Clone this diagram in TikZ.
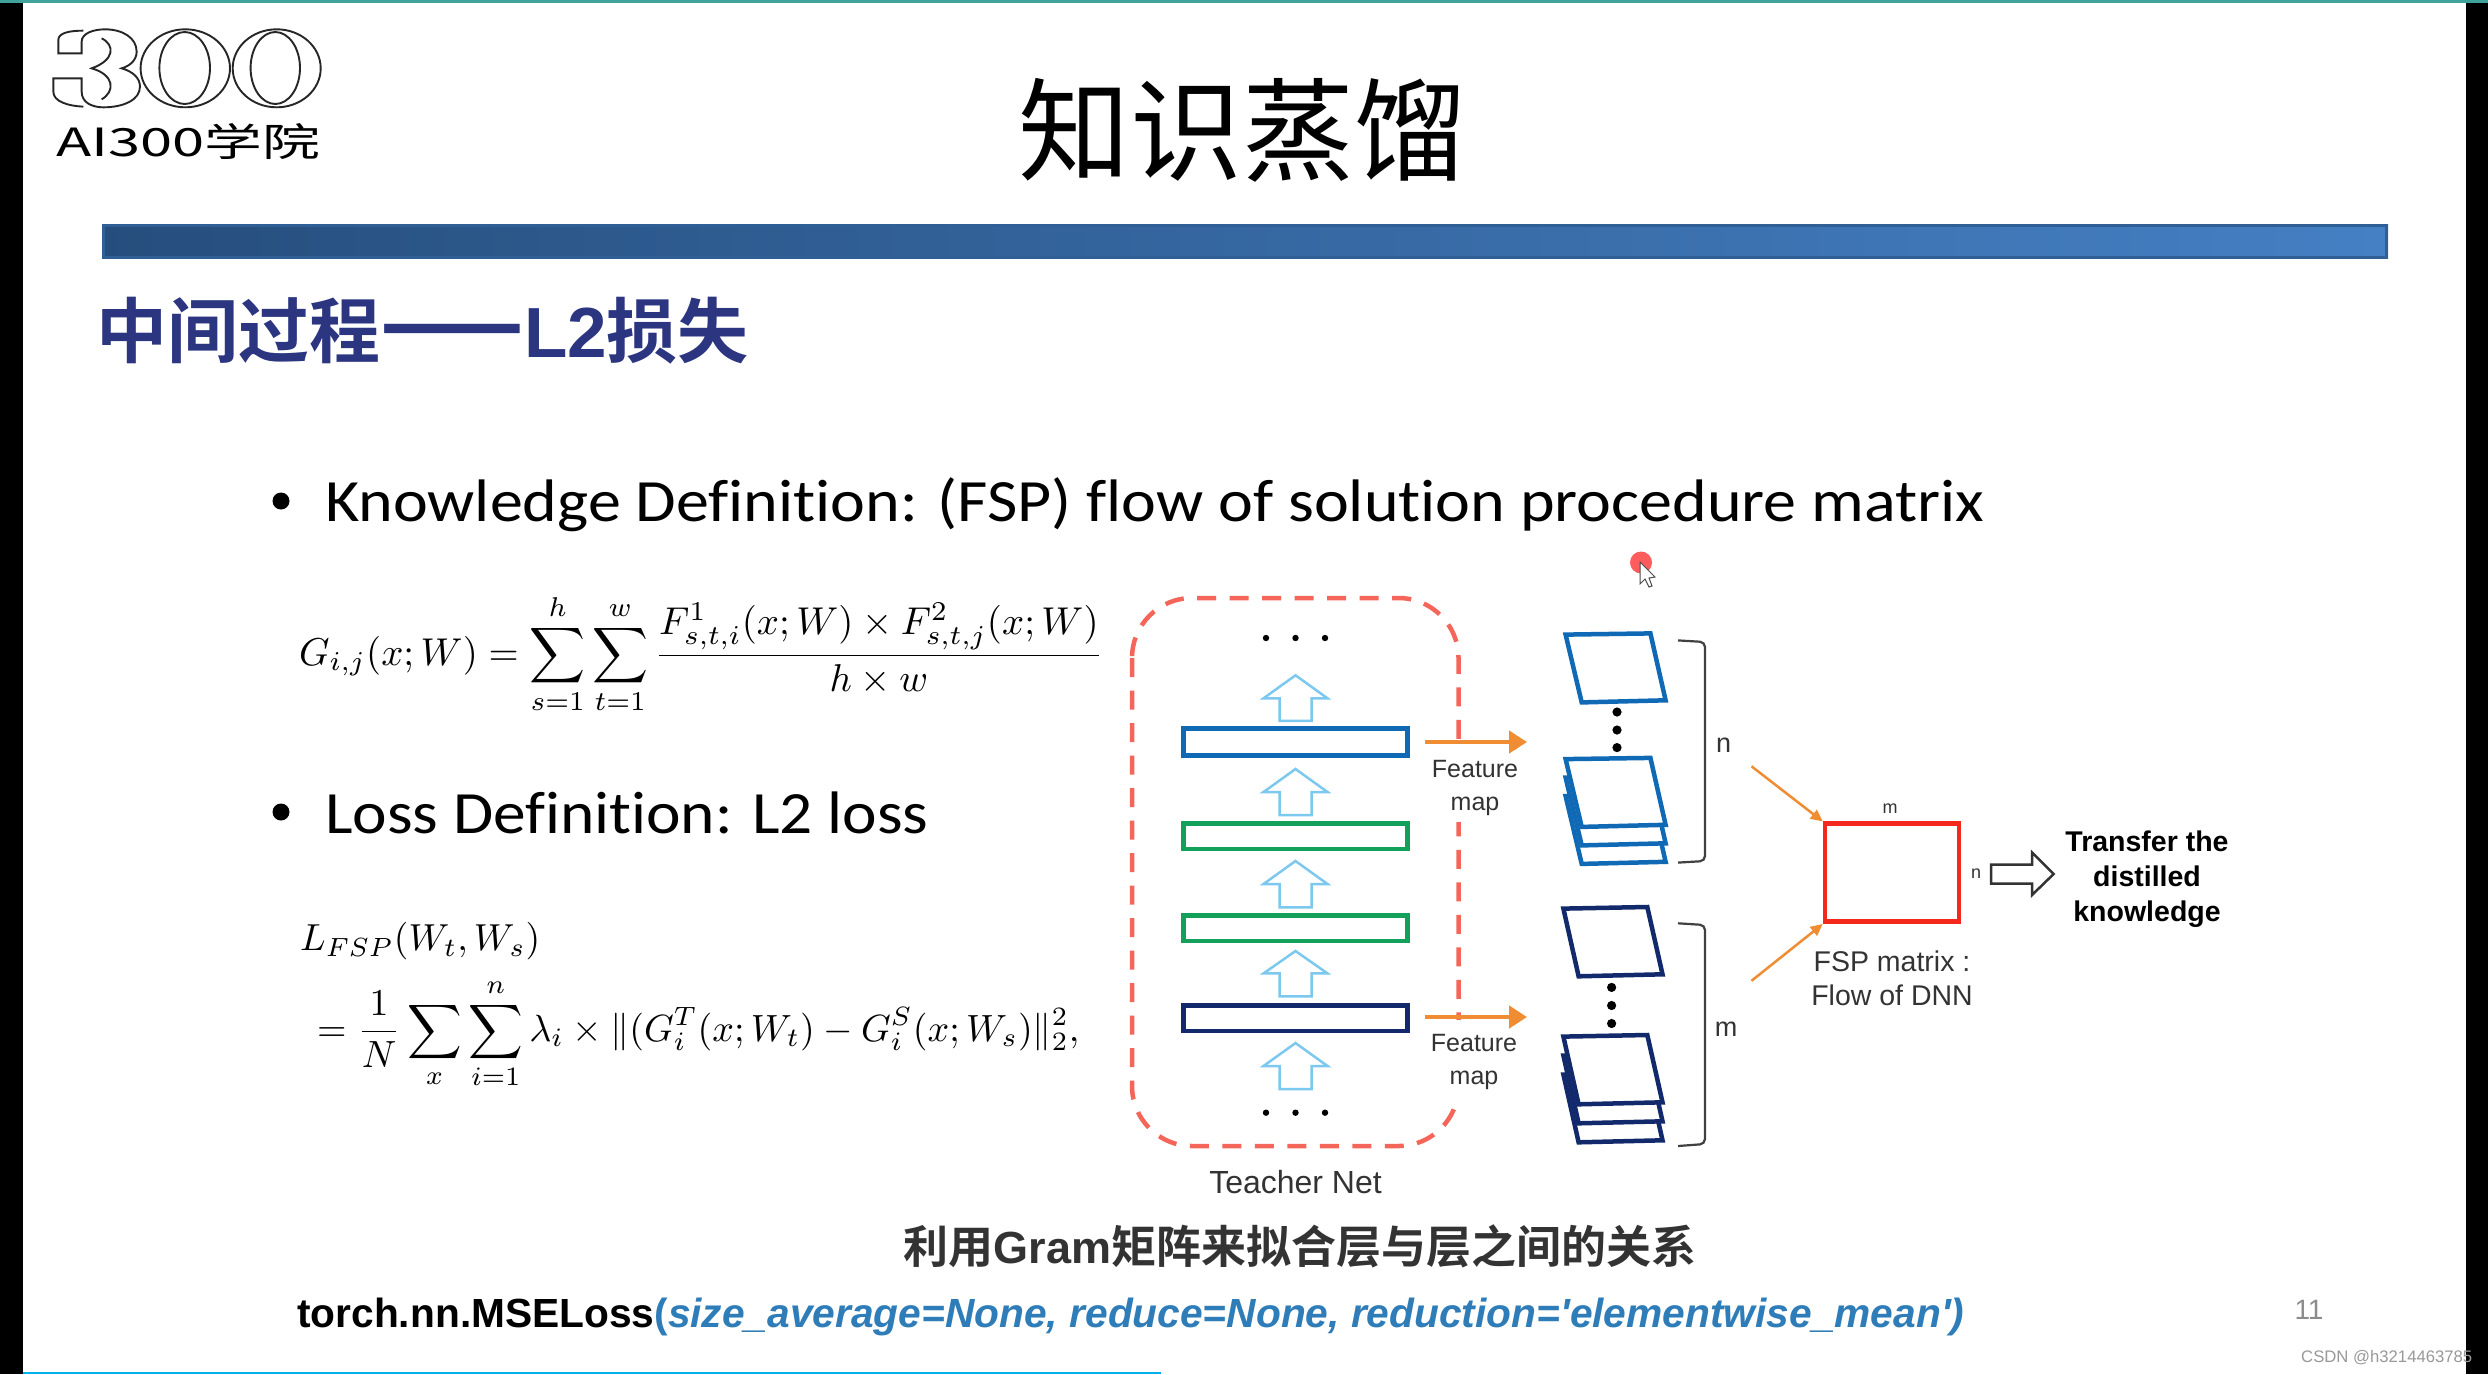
\documentclass[tikz,border=0pt]{standalone}
\usepackage[no-math]{fontspec}
\usepackage{graphicx}
\usetikzlibrary{arrows.meta,shapes.geometric}
\newfontfamily\cjkreg{Noto Sans CJK SC}
\newfontfamily\cjkbold{Noto Sans CJK SC Bold}
\newfontfamily\arial{Liberation Sans}
\newfontfamily\calib[Ligatures=NoCommon]{Carlito}
\definecolor{pblue}{HTML}{0F69B4}
\definecolor{pnavy}{HTML}{12296B}
\definecolor{pgreen}{HTML}{12A05A}
\definecolor{porange}{HTML}{F08C32}
\definecolor{pdash}{HTML}{F4665A}
\definecolor{plight}{HTML}{7CC8EE}
\definecolor{pteal}{HTML}{3FA39B}
\definecolor{pcyan}{HTML}{00B0F0}
\definecolor{ptitle}{HTML}{2B3580}
\definecolor{pcode}{HTML}{2E7DB8}
\definecolor{barL}{HTML}{264E7D}
\definecolor{barR}{HTML}{4580C4}
\definecolor{barE}{HTML}{2F5F94}
\definecolor{pred}{HTML}{F5281E}
\tikzset{
 x=1pt,y=-1pt,
 lbl/.style={inner sep=0pt,outer sep=0pt,align=center,font=\arial\fontsize{25}{32}\selectfont,text=black!80},
 bar/.style={draw=#1,line width=4.5pt,fill=white},
 uparrow/.style={draw=plight,line width=2.5pt,fill=white,line join=miter},
 oarrow/.style={draw=porange,line width=4.5pt,-{Triangle[length=18pt,width=22pt]}},
 tarrow/.style={draw=porange,line width=2.5pt,-{Triangle[length=12pt,width=11pt]}},
 sheet/.style={draw=#1,line width=4.5pt,fill=white,line join=miter},
 brk/.style={draw=black!75,line width=2.2pt,rounded corners=5pt},
 dotk/.style={circle,fill=black,inner sep=0pt,minimum size=#1},
}
\newcommand{\upar}[4]{% x, top, headbase, bottom
 \draw[uparrow] (#1,#2) -- (#1+32,#3) -- (#1+16,#3) -- (#1+16,#4) -- (#1-16,#4) -- (#1-16,#3) -- (#1-32,#3) -- cycle;}
\begin{document}
\begin{tikzpicture}
\useasboundingbox (0,0) rectangle (2488,1374);
\fill[white] (0,0) rectangle (2488,1374);
\fill[black] (0,0) rectangle (23,1374);
\fill[black] (2466,0) rectangle (2488,1374);
\fill[pteal] (0,0) rectangle (2488,2.5);
\fill[pcyan] (23,1371.5) rectangle (1161,1374);

% logo
\begin{scope}[draw=black!85,line width=1.9pt]
 \draw (185.3,68.3) ellipse (44.7 and 39);
 \draw (184.7,68) ellipse (25.3 and 36);
 \draw (276.7,68.3) ellipse (44 and 39);
 \draw (275.3,68) ellipse (24.7 and 36);
 \begin{scope}[shift={(40,20)},scale=0.3333]
 \draw (130,32) .. controls (90,32) and (55,38) .. (55,60) -- (55,100) -- (125,100) -- (125,65) .. controls (125,40) and (160,28) .. (195,28) .. controls (250,28) and (290,55) .. (290,95) .. controls (290,120) and (270,138) .. (245,145) .. controls (280,155) and (300,175) .. (300,200) .. controls (300,240) and (250,262) .. (190,262) .. controls (160,262) and (125,250) .. (125,215) -- (125,175) -- (40,175) -- (40,215) .. controls (40,245) and (85,258) .. (130,260);
 \draw (185,55) .. controls (225,75) and (225,120) .. (155,145) .. controls (225,165) and (225,215) .. (185,238);
 \end{scope}
\end{scope}
\node[inner sep=0pt,anchor=west] (logotext) at (56,141.5) {\resizebox{264pt}{33pt}{\cjkreg AI300学院}};

% title
\node[inner sep=0pt] (title) at (1242,130) {\cjkreg\fontsize{112}{112}\selectfont 知识蒸馏};
\shade[left color=barL,right color=barR] (102,224) rectangle (2388,258.5);
\draw[draw=barE,line width=3pt] (103.5,225.5) rectangle (2386.5,257);

\node[inner sep=0pt,anchor=west,text=ptitle] (sub) at (96,331) {\cjkbold\fontsize{71}{71}\selectfont 中间过程\scalebox{1.19}[1.4]{——}{\arial\bfseries L2}损失};

% bullets
\node[dotk=17pt] (b1) at (281,501) {};
\node[inner sep=0pt,anchor=west] (t1) at (325,505) {\scalebox{1.1}[1]{\calib\fontsize{60}{60}\selectfont Knowledge Definition: (FSP) flow of solution procedure matrix}};
\node[dotk=17pt] (b2) at (281,812) {};
\node[inner sep=0pt,anchor=west] (t2) at (325,813) {\scalebox{1.09}[1]{\calib\fontsize{60}{60}\selectfont Loss Definition: L2 loss}};

% formulas
\node[inner sep=0pt,anchor=west] (f1) at (299,654) {\resizebox{804pt}{!}{$\displaystyle G_{i,j}(x;W)=\sum_{s=1}^{h}\sum_{t=1}^{w}\frac{F^1_{s,t,i}(x;W)\times F^2_{s,t,j}(x;W)}{h\times w}$}};
\node[inner sep=0pt,anchor=west] (f2) at (300,941) {\resizebox{240pt}{!}{$L_{FSP}(W_t,W_s)$}};
\node[inner sep=0pt,anchor=west] (f3) at (317,1034) {\resizebox{762pt}{!}{$\displaystyle =\frac{1}{N}\sum_{x}\sum_{i=1}^{n}\lambda_i\times\|(G_i^T(x;W_t)-G_i^S(x;W_s)\|_2^2,$}};

% teacher net
\draw[draw=pdash,line width=4.5pt,dash pattern=on 19pt off 13.5pt,rounded corners=60pt] (1132,598) rectangle (1458.5,1146);
\fill[white] (1445,749) rectangle (1470,822);
\fill[white] (1445,1020) rectangle (1470,1100);
\node[lbl,font=\arial\fontsize{32}{32}\selectfont] (teacher) at (1295.5,1182) {Teacher Net};
\foreach \xx in {1266,1295.5,1325}{
 \fill (\xx,638) circle (3.2);
 \fill (\xx,1112.7) circle (3.2);
}
\upar{1295.5}{675.3}{698.3}{720.9}
\upar{1295.5}{769}{792}{815}
\upar{1295.5}{861}{884}{907.3}
\upar{1295.5}{951}{973.4}{996.4}
\upar{1295.5}{1043}{1066}{1089}
\node[bar=pblue,minimum width=224pt,minimum height=27pt,inner sep=0pt] (l1) at (1295.5,742) {};
\node[bar=pgreen,minimum width=224pt,minimum height=25.5pt,inner sep=0pt] (l2) at (1295.5,836) {};
\node[bar=pgreen,minimum width=224pt,minimum height=25.5pt,inner sep=0pt] (l3) at (1295.5,928) {};
\node[bar=pnavy,minimum width=224pt,minimum height=25.5pt,inner sep=0pt] (l4) at (1295.5,1018) {};

\coordinate (o1s) at (1425,742); \coordinate (o1e) at (1527,742);
\coordinate (o2s) at (1425,1017); \coordinate (o2e) at (1527,1017);
\draw[oarrow] (o1s) -- (o1e);
\draw[oarrow] (o2s) -- (o2e);
\node[lbl] (fm1) at (1475,788) {Feature\\[1pt]map};
\node[lbl] (fm2) at (1474,1062) {Feature\\[1pt]map};

% blue sheets
\draw[sheet=pblue] (1565.6,634.6) -- (1650.4,633.4) -- (1665.6,700.3) -- (1581.7,702.4) -- cycle;
\foreach \yy in {712,730,747.6} \fill (1617,\yy) circle (4.6);
\foreach \dd in {161.5,143,124.5}{
 \draw[sheet=pblue,yshift=-\dd pt] (1565.6,634.6) -- (1650.4,633.4) -- (1665.6,700.3) -- (1581.7,702.4) -- cycle;
}
% navy sheets
\draw[sheet=pnavy] (1563.4,908.6) -- (1647.3,907) -- (1662.5,974.3) -- (1578.6,976.3) -- cycle;
\foreach \yy in {987.4,1005.5,1023.5} \fill (1611.6,\yy) circle (4.6);
\foreach \dd in {166,147,128}{
 \draw[sheet=pnavy,yshift=-\dd pt] (1563.4,908.6) -- (1647.3,907) -- (1662.5,974.3) -- (1578.6,976.3) -- cycle;
}
% brackets
\draw[brk] (1678,640.4) -- (1705,642) -- (1705,861) -- (1678,862.6);
\draw[brk] (1678,923.3) -- (1705,925) -- (1705,1144) -- (1678,1146);
\node[lbl,font=\arial\fontsize{27}{27}\selectfont] (nn) at (1723.6,745) {n};
\node[lbl,font=\arial\fontsize{27}{27}\selectfont] (mm) at (1726,1029) {m};

% FSP
\node[draw=pred,line width=4.5pt,minimum width=134pt,minimum height=98pt,inner sep=0pt,fill=white] (fsp) at (1892,872.7) {};
\coordinate (a1) at (1751.5,766.3); \coordinate (a2) at (1751.5,980.8);
\draw[tarrow] (a1) -- (fsp.north west);
\draw[tarrow] (a2) -- (fsp.south west);
\node[lbl,font=\arial\fontsize{18}{18}\selectfont] (sm) at (1890,809) {m};
\node[lbl,font=\arial\fontsize{18}{18}\selectfont] (sn) at (1976,874) {n};
\node[lbl,font=\arial\fontsize{28.5}{34}\selectfont] (fsptext) at (1892,978) {FSP matrix :\\Flow of DNN};
\draw[draw=black!80,line width=2.5pt,fill=white] (1991,864.7) -- (2032,864.7) -- (2032,852.4) -- (2053.6,874) -- (2032,895) -- (2032,883.6) -- (1991,883.6) -- cycle;
\node[lbl,text=black,font=\arial\bfseries\fontsize{28.5}{35}\selectfont] (transfer) at (2147,879) {Transfer the\\distilled\\knowledge};

% pointer
\fill[red!70!white,opacity=.9] (1641,562.5) circle (11);
\draw[draw=black!70,fill=white,line width=1pt] (1640,562) -- (1640,584) -- (1645,579) -- (1649,587) -- (1652,586) -- (1649,578) -- (1655,577) -- cycle;

% bottom
\node[inner sep=0pt,text=black!80] (gram) at (1300,1246) {\cjkbold\fontsize{45}{45}\selectfont 利用{\arial\bfseries Gram}矩阵来拟合层与层之间的关系};
\node[inner sep=0pt,anchor=west] (torch) at (297,1317) {\arial\bfseries\fontsize{40.7}{41}\selectfont torch.nn.MSELoss{\color{pcode}(\itshape size\_average=None, reduce=None, reduction='elementwise\_mean')}};
\node[inner sep=0pt,text=black!45] (pg) at (2309,1310) {\arial\fontsize{28}{28}\selectfont 11};
\node[inner sep=0pt,anchor=west,text=black!40] (wm) at (2301,1358) {\arial\fontsize{16.7}{17}\selectfont CSDN @h3214463785};
\end{tikzpicture}
\end{document}
